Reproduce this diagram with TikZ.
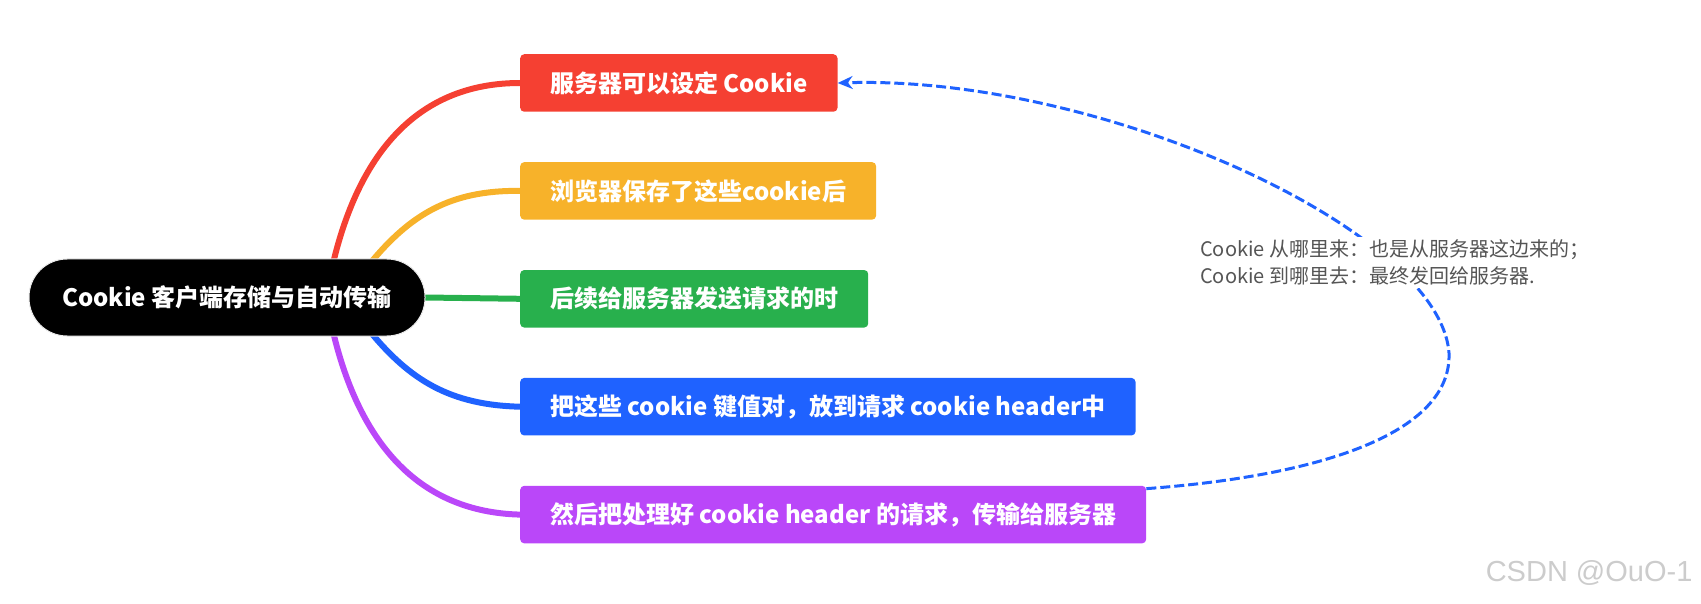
\documentclass[tikz,border=0pt]{standalone}
\usepackage{fontspec}
\setmainfont{Noto Sans CJK SC}
\newfontfamily\markfont{Liberation Sans}
\usetikzlibrary{positioning,arrows.meta,backgrounds}
\definecolor{topred}{HTML}{F54032}
\definecolor{topyellow}{HTML}{F7B22A}
\definecolor{topgreen}{HTML}{28B04D}
\definecolor{topblue}{HTML}{1F62FF}
\definecolor{toppurple}{HTML}{BA47F9}
\definecolor{notegray}{HTML}{555555}
\tikzset{
  rootbox/.style={rectangle,rounded corners=38pt,fill=black,draw=gray!15,line width=1pt,text=white,font=\fontsize{24}{28}\selectfont\bfseries,minimum width=396pt,minimum height=77pt,inner sep=0pt},
  topicbox/.style={rectangle,rounded corners=4pt,fill=#1,text=white,font=\fontsize{24}{28}\selectfont\bfseries,minimum height=57.5pt,inner xsep=30pt,inner ysep=0pt},
  branch/.style={line width=6pt,draw=#1,line cap=round},
  relarr/.style={-{Stealth[length=15pt,width=13pt]},line width=3pt,draw=topblue,dash pattern=on 10pt off 4pt},
  relnote/.style={fill=white,text=notegray,font=\fontsize{20}{27}\selectfont,align=left,inner sep=3pt}
}

\begin{document}
\begin{tikzpicture}[x=1pt,y=-1pt]
  \useasboundingbox (0,0) rectangle (1701,604);
  \node[rootbox] (root) at (227,297.5) {Cookie 客户端存储与自动传输};
  \node[topicbox=topred,anchor=west] (red) at (520,83) {服务器可以设定 Cookie};
  \node[topicbox=topyellow,below=50pt of red.south west,anchor=north west] (yellow) {浏览器保存了这些cookie后};
  \node[topicbox=topgreen,below=50pt of yellow.south west,anchor=north west] (green) {后续给服务器发送请求的时};
  \node[topicbox=topblue,below=50pt of green.south west,anchor=north west] (blue) {把这些 cookie 键值对，放到请求 cookie header中};
  \node[topicbox=toppurple,below=50pt of blue.south west,anchor=north west] (purple) {然后把处理好 cookie header 的请求，传输给服务器};
  % branches behind the nodes
  \begin{scope}[on background layer]
    \draw[branch=topred] ([xshift=106pt,yshift=-5pt]root.north) .. controls (360,150) and (420,83) .. (red.west);
    \draw[branch=topyellow] ([xshift=143pt,yshift=-5pt]root.north) .. controls (410,215) and (450,190) .. (yellow.west);
    \draw[branch=topgreen] (root.east) -- (green.west);
    \draw[branch=topblue] ([xshift=143pt,yshift=5pt]root.south) .. controls (410,380) and (450,405) .. (blue.west);
    \draw[branch=toppurple] ([xshift=106pt,yshift=5pt]root.south) .. controls (360,445) and (420,512) .. (purple.west);
  \end{scope}
  % relation back to the server
  \coordinate (loop) at (1449,353);
  \draw[relarr] ([yshift=-3pt]purple.north east) .. controls (1330,475) and (1452,430) .. (loop)
    .. controls (1440,230) and (1100,75) .. (red.east);
  \node[relnote,anchor=west] (note) at (1197,262.5) {Cookie 从哪里来：也是从服务器这边来的；\\Cookie 到哪里去：最终发回给服务器.};
  \node[font=\markfont\fontsize{29}{34}\selectfont,text=gray!40,anchor=east] (mark) at (1696,573) {CSDN @OuO-1};
\end{tikzpicture}
\end{document}
